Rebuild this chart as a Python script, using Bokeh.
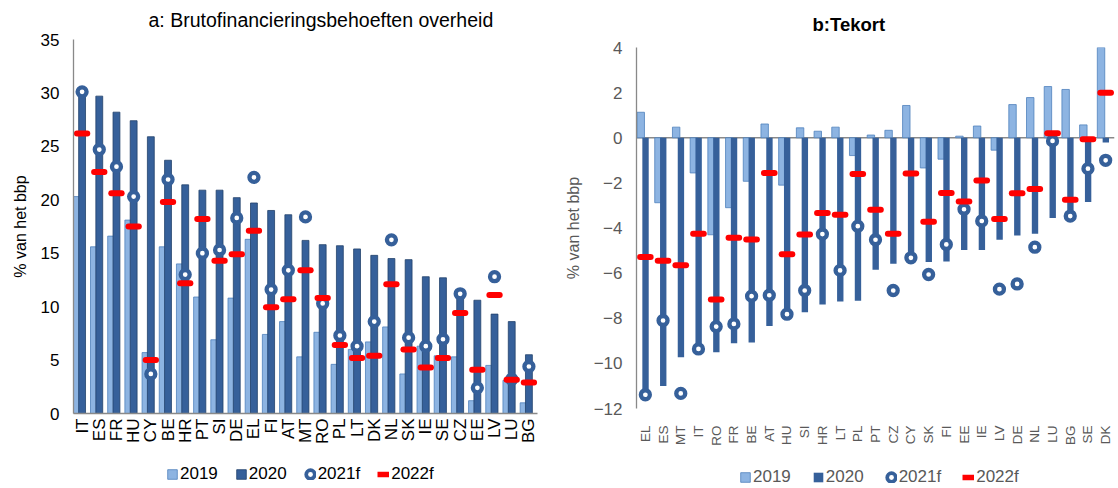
import math
from bokeh.plotting import figure
from bokeh.models import (ColumnDataSource, FactorRange, Range1d, FixedTicker,
                          Legend, LegendItem, Span)
from bokeh.transform import dodge
from bokeh.layouts import row, column
from bokeh.embed import file_html
from bokeh.resources import INLINE

# ---------------- data ----------------
a_countries = ["IT", "ES", "FR", "HU", "CY", "BE", "HR", "PT", "SI", "DE", "EL", "FI", "AT", "MT",
               "RO", "PL", "LT", "DK", "NL", "SK", "IE", "SE", "CZ", "EE", "LV", "LU", "BG"]
a_2019 = [20.3, 15.6, 16.6, 18.1, 5.7, 15.6, 14.0, 10.9, 6.9, 10.8, 16.3, 7.4, 8.6, 5.3,
          7.6, 4.6, 6.0, 6.7, 8.1, 3.7, 6.3, 5.4, 5.3, 1.2, 4.5, 3.1, 1.0]
a_2020 = [30.0, 29.7, 28.2, 27.4, 25.9, 23.7, 21.4, 20.9, 20.9, 20.2, 19.7, 19.0, 18.6, 16.2,
          15.8, 15.7, 15.4, 14.8, 14.5, 14.4, 12.8, 12.7, 11.1, 10.6, 9.3, 8.6, 5.5]
a_2021f = [30.1, 24.7, 23.1, 20.3, 3.7, 21.9, 13.0, 15.0, 15.3, 18.3, 22.1, 11.6, 13.4, 18.4,
           10.3, 7.3, 6.3, 8.6, 16.25, 7.1, 6.3, 6.95, 11.2, 2.4, 12.8, 3.2, 4.4]
a_2022f = [26.2, 22.6, 20.6, 17.5, 5.0, 19.8, 12.2, 18.2, 14.3, 14.9, 17.1, 9.95, 10.7, 13.4,
           10.8, 6.4, 5.2, 5.4, 12.1, 6.0, 4.3, 5.2, 9.4, 4.1, 11.1, 3.15, 2.9]

b_countries = ["EL", "ES", "MT", "IT", "RO", "FR", "BE", "AT", "HU", "SI", "HR", "LT", "PL", "PT",
               "CZ", "CY", "SK", "FI", "EE", "IE", "LV", "DE", "NL", "LU", "BG", "SE", "DK"]
b_2019 = [1.13, -2.88, 0.47, -1.56, -4.3, -3.1, -1.93, 0.61, -2.1, 0.44, 0.29, 0.47, -0.79, 0.12,
          0.33, 1.43, -1.34, -0.95, 0.07, 0.52, -0.55, 1.47, 1.78, 2.27, 2.14, 0.57, 4.1]
b_2020 = [-11.2, -11.0, -9.73, -9.55, -9.51, -9.11, -9.08, -8.34, -8.0, -7.73, -7.39, -7.26, -7.22, -5.85,
          -5.59, -5.55, -5.51, -5.48, -4.97, -4.97, -4.52, -4.33, -4.26, -3.56, -3.4, -2.85, -0.21]
b_2021f = [-11.39, -8.1, -11.33, -9.36, -8.37, -8.25, -7.02, -6.98, -7.82, -6.77, -4.27, -5.88, -3.92, -4.52,
           -6.77, -5.32, -6.06, -4.73, -3.17, -3.69, -6.71, -6.48, -4.85, -0.14, -3.47, -1.37, -1.0]
b_2022f = [-5.28, -5.45, -5.65, -4.25, -7.17, -4.43, -4.51, -1.56, -5.16, -4.29, -3.34, -3.41, -1.61, -3.19,
           -4.25, -1.58, -3.72, -2.45, -2.83, -1.9, -3.6, -2.46, -2.27, 0.2, -2.75, -0.07, 1.99]

a_ticks = [0, 5, 10, 15, 20, 25, 30, 35]
b_ticks = [-12, -10, -8, -6, -4, -2, 0, 2, 4]
series_names = ["2019", "2020", "2021f", "2022f"]

# ---------------- style ----------------
FONT = "Liberation Sans"
LIGHT = "#8DB4E2"
LIGHT_LINE = "#4F81BD"
DARK = "#36609A"
DARK_LINE = "#22416B"
RED = "#FF0000"
AXIS = "#898989"
GRAY_TXT = "#595959"
CHART_H = 458
LEGEND_H = 30


def build(countries, s19, s20, s21, s22, yr, ticks, title, title_bold, title_size,
          title_offset, title_standoff, txt_color, width, borders, x_label_size,
          light_off, dark_off, dark_w, dark_line, zero_line):
    src = ColumnDataSource(dict(x=countries, y19=s19, y20=s20, y21=s21, y22=s22))
    p = figure(x_range=FactorRange(*countries), y_range=Range1d(*yr),
               width=width, height=CHART_H, output_backend="svg", toolbar_location=None,
               min_border_left=borders[0], min_border_right=borders[1],
               min_border_top=borders[2], min_border_bottom=borders[3])
    p.outline_line_color = None
    p.xgrid.visible = False
    p.ygrid.visible = False
    p.background_fill_color = "white"

    p.title.text = title
    p.title.text_font = FONT
    p.title.text_font_size = title_size
    p.title.text_font_style = "bold" if title_bold else "normal"
    p.title.text_color = "black"
    p.title.align = "left"
    p.title.vertical_align = "top"
    p.title.offset = title_offset
    p.title.standoff = title_standoff

    if zero_line:
        p.add_layout(Span(location=0, dimension="width", line_color=AXIS, line_width=1.3,
                          level="underlay"))

    p.vbar(x=dodge("x", light_off, range=p.x_range), top="y19", bottom=0, width=0.42,
           source=src, fill_color=LIGHT, line_color=LIGHT_LINE, line_width=0.8)
    p.vbar(x=dodge("x", dark_off, range=p.x_range), top="y20", bottom=0, width=dark_w,
           source=src, fill_color=DARK, line_color=dark_line, line_width=0.8)
    p.scatter(x="x", y="y21", source=src, marker="circle", size=9, fill_color="white",
              line_color=DARK, line_width=4.3)
    p.segment(x0=dodge("x", -0.3, range=p.x_range), y0="y22",
              x1=dodge("x", 0.3, range=p.x_range), y1="y22", source=src,
              line_color=RED, line_width=6, line_cap="round")

    ya = p.yaxis[0]
    ya.ticker = FixedTicker(ticks=ticks)
    ya.axis_label = "% van het bbp"
    ya.axis_label_text_font = FONT
    ya.axis_label_text_font_size = "16px"
    ya.axis_label_text_font_style = "normal"
    ya.axis_label_text_color = txt_color
    ya.major_label_text_font = FONT
    ya.major_label_text_font_size = "17px"
    ya.major_label_text_color = txt_color
    ya.axis_line_color = AXIS
    ya.axis_line_width = 1.3
    ya.major_tick_line_color = None
    ya.minor_tick_line_color = None
    ya.major_tick_out = 0
    ya.major_tick_in = 0
    ya.major_label_standoff = 14
    ya.axis_label_standoff = 9

    xa = p.xaxis[0]
    xa.major_label_orientation = math.pi / 2
    xa.major_label_text_font = FONT
    xa.major_label_text_font_size = x_label_size
    xa.major_label_text_color = txt_color
    xa.major_tick_line_color = None
    xa.major_tick_out = 0
    xa.major_tick_in = 0
    if zero_line:
        xa.axis_line_color = None
        xa.major_label_standoff = 17
    else:
        xa.axis_line_color = AXIS
        xa.axis_line_width = 1.3
        xa.major_label_standoff = 5
    return p


def build_legend(width, dark_line, txt_color, loc, spacing):
    lg = figure(width=width, height=LEGEND_H, x_range=Range1d(0, 1), y_range=Range1d(0, 1),
                output_backend="svg", toolbar_location=None,
                x_axis_location=None, y_axis_location=None, min_border=0)
    lg.outline_line_color = None
    lg.xgrid.visible = False
    lg.ygrid.visible = False
    nan = float("nan")
    lsrc = ColumnDataSource(dict(x=[0.5], y=[nan]))
    sw19 = lg.vbar(x="x", top="y", bottom=0, width=0.1, source=lsrc,
                   fill_color=LIGHT, line_color=LIGHT_LINE, line_width=0.8)
    sw20 = lg.vbar(x="x", top="y", bottom=0, width=0.1, source=lsrc,
                   fill_color=DARK, line_color=dark_line, line_width=0.8)
    ring_a = lg.scatter(x="x", y="y", source=lsrc, marker="circle", fill_color=DARK,
                        line_color=DARK, line_width=7.5)
    ring_b = lg.scatter(x="x", y="y", source=lsrc, marker="circle", fill_color="white",
                        line_color=None)
    dash_l = lg.segment(x0="x", y0="y", x1="x", y1="y", source=lsrc, line_color=RED,
                        line_width=5.5, line_cap="butt")
    legend = Legend(items=[LegendItem(label=series_names[0], renderers=[sw19]),
                           LegendItem(label=series_names[1], renderers=[sw20]),
                           LegendItem(label=series_names[2], renderers=[ring_a, ring_b]),
                           LegendItem(label=series_names[3], renderers=[dash_l])],
                    location=loc, orientation="horizontal",
                    glyph_width=12, glyph_height=12, label_standoff=2,
                    spacing=spacing, padding=0, margin=0,
                    border_line_color=None, background_fill_alpha=0,
                    label_text_font=FONT, label_text_font_size="17px",
                    label_text_color=txt_color, label_height=20)
    lg.add_layout(legend, "center")
    return lg


p1 = build(a_countries, a_2019, a_2020, a_2021f, a_2022f, (0, 35), a_ticks,
           "a: Brutofinancieringsbehoeften overheid", False, "19.5px", 75, 14, "black",
           558, (73, 21, 39, 45), "17px", -0.3, 0.0, 0.4, DARK_LINE, False)
p2 = build(b_countries, b_2019, b_2020, b_2021f, b_2022f, (-12, 4), b_ticks,
           "b:Tekort", True, "18.5px", 176, 22, GRAY_TXT,
           560, (78, 4, 47, 50), "13.5px", -0.26, 0.01, 0.36, None, True)

# legend frames line up with the chart frames above them
l1 = build_legend(558, DARK_LINE, "black", (93, 4), 17)
l2 = build_legend(560, None, GRAY_TXT, (103, 1), 21)

layout = row(column(p1, l1), column(p2, l2))
open("out.html", "w").write(file_html(layout, INLINE))
